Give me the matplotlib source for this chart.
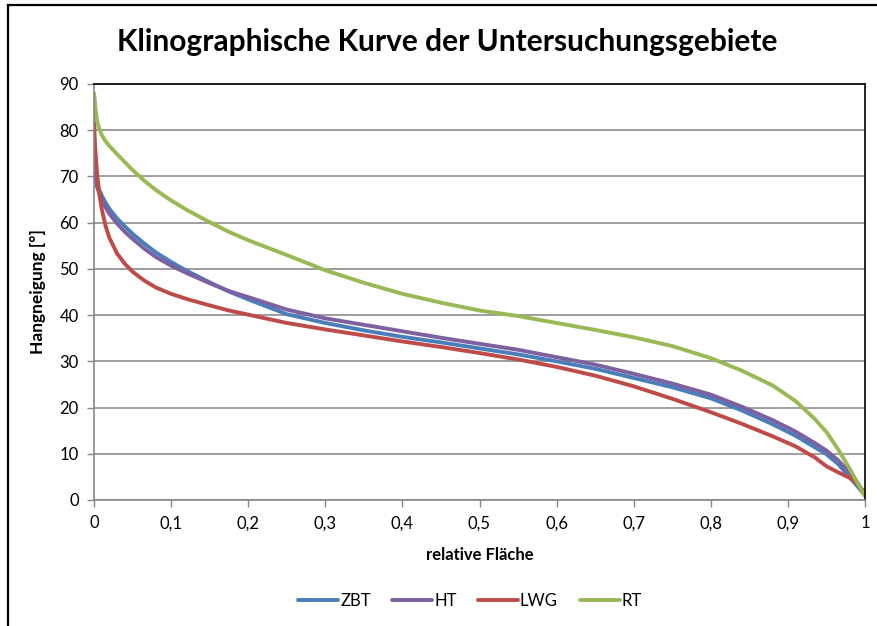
import matplotlib.pyplot as plt
from matplotlib.lines import Line2D
from matplotlib.ticker import FuncFormatter

# relative Fläche (x) und Hangneigung in Grad je Untersuchungsgebiet
flaeche = [0, 0.001, 0.002, 0.004, 0.007, 0.01, 0.015, 0.02, 0.03, 0.04,
           0.05, 0.065, 0.08, 0.1, 0.12, 0.15, 0.175, 0.2, 0.25, 0.3,
           0.35, 0.4, 0.45, 0.5, 0.55, 0.6, 0.65, 0.7, 0.75, 0.8,
           0.84, 0.88, 0.91, 0.935, 0.95, 0.965, 0.98, 0.99, 1.0]

zbt = [72.7, 70.8, 69.8, 68.3, 67.0, 65.9, 64.3, 63.0, 60.9, 59.2,
       57.6, 55.5, 53.6, 51.5, 49.6, 47.1, 45.1, 43.4, 40.2, 38.3,
       36.7, 35.3, 34.1, 32.8, 31.5, 30.0, 28.4, 26.4, 24.4, 22.0,
       19.4, 16.4, 13.9, 11.4, 9.9, 7.8, 5.0, 3.0, 1.0]
ht = [72.0, 70.2, 69.2, 67.7, 66.2, 65.0, 63.3, 61.9, 59.8, 58.0,
      56.5, 54.4, 52.6, 50.7, 49.1, 46.9, 45.2, 43.9, 41.2, 39.3,
      37.9, 36.5, 35.1, 33.8, 32.5, 30.9, 29.3, 27.3, 25.2, 22.8,
      20.2, 17.3, 14.8, 12.3, 10.7, 8.6, 6.0, 3.8, 1.2]
lwg = [83.5, 78.0, 75.0, 70.5, 66.2, 63.0, 59.3, 56.7, 53.3, 51.1,
       49.4, 47.5, 46.0, 44.6, 43.5, 42.1, 41.0, 40.1, 38.3, 36.9,
       35.6, 34.3, 33.1, 31.8, 30.4, 28.8, 26.9, 24.6, 21.9, 19.0,
       16.5, 13.8, 11.6, 9.2, 7.3, 6.0, 4.8, 3.5, 1.5]
rt = [88.0, 86.5, 84.5, 82.0, 80.2, 79.0, 77.6, 76.6, 74.8, 73.1,
      71.4, 69.1, 67.1, 64.8, 62.8, 60.1, 58.0, 56.2, 53.0, 49.7,
      47.0, 44.6, 42.7, 41.0, 39.8, 38.3, 36.8, 35.2, 33.3, 30.7,
      28.0, 24.8, 21.4, 17.5, 14.7, 11.0, 6.8, 3.8, 0.8]

namen = ['ZBT', 'HT', 'LWG', 'RT']
farben = ['#4A7EBB', '#7D60A0', '#BE4B48', '#98B954']

plt.rcParams['font.family'] = ['Lato', 'DejaVu Sans']

fig = plt.figure(figsize=(8.77, 6.26), dpi=100)
ax = fig.add_axes([94 / 877, 1 - 500 / 626, 771 / 877, 416 / 626])

for werte, name, farbe in zip([zbt, ht, lwg, rt], namen, farben):
    ax.plot(flaeche, werte, color=farbe, lw=2.8, label=name,
            solid_capstyle='round', solid_joinstyle='round')

ax.set_xlim(0, 1)
ax.set_ylim(0, 90)
ax.set_xticks([i / 10 for i in range(11)])
ax.set_yticks(range(0, 91, 10))
komma = FuncFormatter(lambda v, p: ('%g' % round(v, 1)).replace('.', ','))
ax.xaxis.set_major_formatter(komma)
ax.tick_params(labelsize=12, length=5, width=1, color='#868686',
               labelcolor='black', pad=6)
ax.grid(axis='y', color='#8c8c8c', lw=1.2)
ax.set_axisbelow(True)
for s in ['left', 'bottom']:
    ax.spines[s].set_color('#868686')
    ax.spines[s].set_linewidth(1.2)
for s in ['top', 'right']:
    ax.spines[s].set_color('black')
    ax.spines[s].set_linewidth(1.2)

ax.set_xlabel('relative Fläche', fontsize=12, fontweight='bold', labelpad=11)
ax.set_ylabel('Hangneigung [°]', fontsize=12.5, fontweight='bold', labelpad=10)

fig.text(447 / 877, 1 - 42 / 626, 'Klinographische Kurve der Untersuchungsgebiete',
         ha='center', va='center', fontsize=21.5, fontweight='bold')

fig.legend(loc='center', bbox_to_anchor=(470 / 877, 1 - 601 / 626), ncol=4,
           frameon=False, fontsize=12, handlelength=2.4, columnspacing=1.3,
           handletextpad=0.1)

# Rahmen des Diagrammbereichs (rechts und unten abgeschnitten)
rx = 8 / 877
ry = 1 - 5 / 626
fig.add_artist(Line2D([rx, rx], [0, ry], color='black', lw=1.6))
fig.add_artist(Line2D([rx, 1], [ry, ry], color='black', lw=1.6))

fig.savefig('out.png', dpi=100)
